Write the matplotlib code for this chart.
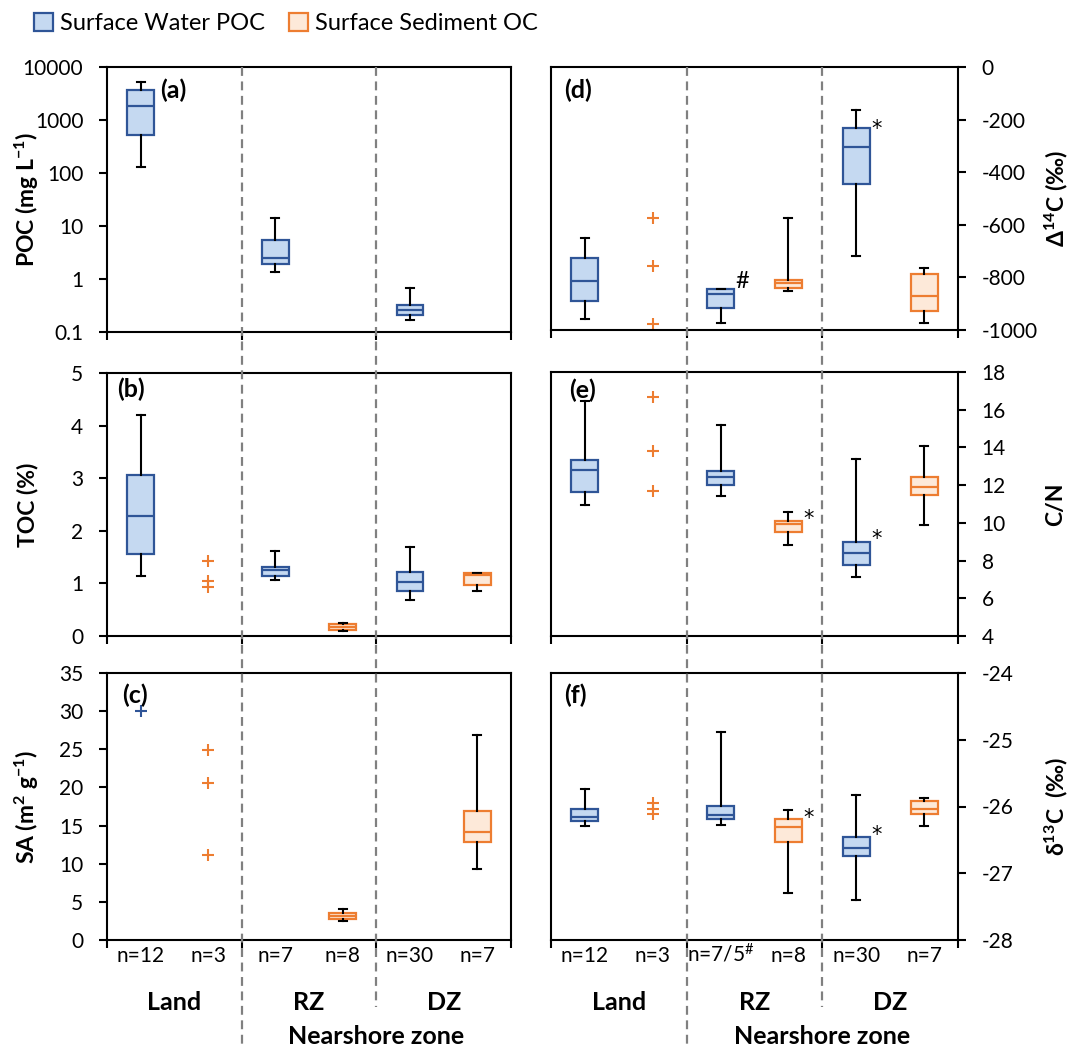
import numpy as np
import matplotlib
matplotlib.use('Agg')
from matplotlib import pyplot as plt
from matplotlib.patches import Patch
from matplotlib.lines import Line2D
from matplotlib.transforms import blended_transform_factory

plt.rcParams['font.family'] = ['Lato', 'DejaVu Sans']
plt.rcParams['mathtext.fontset'] = 'custom'
plt.rcParams['mathtext.rm'] = 'Lato'
plt.rcParams['mathtext.bf'] = 'Lato:bold'
plt.rcParams['mathtext.default'] = 'regular'
plt.rcParams['axes.unicode_minus'] = False

# each box: [whislo, q1, med, q3, whishi]; None = no box for that zone
zones = ['Land', 'RZ', 'DZ']
n_left = ['n=12', 'n=3', 'n=7', 'n=8', 'n=30', 'n=7']
n_right = ['n=12', 'n=3', 'n=7/5$^{\\#}$', 'n=8', 'n=30', 'n=7']

poc_water = [[132, 517, 1860, 3620, 5200], [1.33, 1.96, 2.44, 5.4, 14.3], [0.166, 0.213, 0.264, 0.32, 0.68]]
poc_sed = [None, None, None]

toc_water = [[1.14, 1.565, 2.29, 3.07, 4.2], [1.058, 1.147, 1.248, 1.305, 1.61], [0.69, 0.862, 1.027, 1.217, 1.686]]
toc_sed = [None, [0.089, 0.12, 0.171, 0.222, 0.253], [0.862, 0.976, 1.165, 1.19, 1.2]]
toc_sed_pts = [1.42, 1.04, 0.925]

sa_water = [None, None, None]
sa_water_pts = [30.0]
sa_sed = [None, [2.47, 2.69, 3.13, 3.57, 4.0], [9.25, 12.86, 14.18, 16.9, 26.86]]
sa_sed_pts = [24.9, 20.6, 11.2]

d14c_water = [[-958, -890, -812, -727, -650], [-975, -916, -863, -846, -846], [-720, -445, -306, -233, -165]]
d14c_sed = [None, [-852, -839, -821, -808, -576], [-972, -926, -872, -787, -763]]
d14c_sed_pts = [-576, -756, -978]

cn_water = [[10.96, 11.65, 12.8, 13.35, 16.46], [11.4, 12.0, 12.41, 12.76, 15.17], [7.12, 7.75, 8.42, 9.0, 13.4]]
cn_sed = [None, [8.85, 9.49, 9.93, 10.09, 10.6], [9.91, 11.5, 11.91, 12.41, 14.1]]
cn_sed_pts = [16.67, 13.79, 11.7]

d13c_water = [[-26.29, -26.215, -26.155, -26.04, -25.74], [-26.275, -26.185, -26.12, -25.99, -24.88], [-27.405, -26.745, -26.615, -26.455, -25.835]]
d13c_sed = [None, [-27.3, -26.525, -26.305, -26.19, -26.05], [-26.285, -26.115, -26.035, -25.915, -25.87]]
d13c_sed_pts = [-25.95, -26.03, -26.11]

# significance marks: (slot, y, symbol)
d14c_marks = [(2, -806, '#'), (4, -203, '*')]
cn_marks = [(3, 10.67, '*'), (4, 9.56, '*')]
d13c_marks = [(3, -26.05, '*'), (4, -26.3, '*')]

blue_fill, blue_edge = '#c5d9f1', '#2f5597'
orange_fill, orange_edge = '#fde9d9', '#ed7d31'

W, H = 1073, 1046
fig = plt.figure(figsize=(W / 100, H / 100), dpi=100)


def px_axes(x0, x1, y0, y1):
    return fig.add_axes([x0 / W, 1 - y1 / H, (x1 - x0) / W, (y1 - y0) / H])


def draw_boxes(ax, stats, slots, fill, edge):
    st, pos = [], []
    for s, b in zip(slots, stats):
        if b is None:
            continue
        st.append(dict(whislo=b[0], q1=b[1], med=b[2], q3=b[3], whishi=b[4], fliers=[]))
        pos.append(s + 0.5)
    if not st:
        return
    ax.bxp(st, positions=pos, widths=0.4, capwidths=0.12, patch_artist=True, showfliers=False,
           boxprops=dict(facecolor=fill, edgecolor=edge, linewidth=1.6),
           medianprops=dict(color=edge, linewidth=1.6),
           whiskerprops=dict(color='black', linewidth=1.5),
           capprops=dict(color='black', linewidth=1.5), manage_ticks=False)


L0, L1 = 107, 511
R0, R1 = 551, 958
panels = [
    dict(cell=(L0, L1, 67, 332), side='left', tag='(a)', tagxy=(160, 90), ylabel='POC (mg L$^{-1}$)',
         water=poc_water, sed=poc_sed, wpts=[], spts=[], marks=[], log=True, ylim=(0.1, 10000),
         yticks=[0.1, 1, 10, 100, 1000, 10000], yticklabels=['0.1', '1', '10', '100', '1000', '10000']),
    dict(cell=(L0, L1, 373, 636), side='left', tag='(b)', tagxy=(117, 389), ylabel='TOC (%)',
         water=toc_water, sed=toc_sed, wpts=[], spts=toc_sed_pts, marks=[], log=False, ylim=(0, 5),
         yticks=np.arange(0, 6, 1)),
    dict(cell=(L0, L1, 673, 940), side='left', tag='(c)', tagxy=(122, 695), ylabel='SA (m$^{2}$ g$^{-1}$)',
         water=sa_water, sed=sa_sed, wpts=sa_water_pts, spts=sa_sed_pts, marks=[], log=False, ylim=(0, 35),
         yticks=np.arange(0, 40, 5), nlab=n_left),
    dict(cell=(R0, R1, 67, 330), side='right', tag='(d)', tagxy=(564, 90), ylabel='Δ$^{14}$C (‰)',
         water=d14c_water, sed=d14c_sed, wpts=[], spts=d14c_sed_pts, marks=d14c_marks, log=False,
         ylim=(-1000, 0), yticks=np.arange(-1000, 1, 200)),
    dict(cell=(R0, R1, 372, 636), side='right', tag='(e)', tagxy=(569, 390), ylabel='C/N',
         water=cn_water, sed=cn_sed, wpts=[], spts=cn_sed_pts, marks=cn_marks, log=False,
         ylim=(4, 18), yticks=np.arange(4, 19, 2)),
    dict(cell=(R0, R1, 673, 940), side='right', tag='(f)', tagxy=(564, 695), ylabel='δ$^{13}$C  (‰)',
         water=d13c_water, sed=d13c_sed, wpts=[], spts=d13c_sed_pts, marks=d13c_marks, log=False,
         ylim=(-28, -24), yticks=np.arange(-28, -23, 1), nlab=n_right),
]

axes = []
for p in panels:
    x0, x1, y0, y1 = p['cell']
    ax = px_axes(x0, x1, y0, y1)
    axes.append(ax)
    if p['log']:
        ax.set_yscale('log')
    ax.set_xlim(0, 6)
    ax.set_ylim(*p['ylim'])
    draw_boxes(ax, p['water'], [0, 2, 4], blue_fill, blue_edge)
    draw_boxes(ax, p['sed'], [1, 3, 5], orange_fill, orange_edge)
    if p['wpts']:
        ax.plot([0.5] * len(p['wpts']), p['wpts'], ls='none', marker='+', ms=8.5, mew=1.5, color=blue_edge)
    if p['spts']:
        ax.plot([1.5] * len(p['spts']), p['spts'], ls='none', marker='+', ms=8.5, mew=1.5, color=orange_edge)
    for slot, yv, sym in p['marks']:
        if sym == '#':
            ax.annotate(sym, (slot + 0.82, yv), xytext=(0, -2), textcoords='offset points',
                        fontsize=17, ha='center', va='center')
        else:
            ax.annotate(sym, (slot + 0.8, yv), xytext=(0, -6), textcoords='offset points',
                        fontsize=15, family='DejaVu Sans', ha='center', va='center')

    ax.set_yticks(p['yticks'])
    if 'yticklabels' in p:
        ax.set_yticklabels(p['yticklabels'])
    ax.yaxis.set_minor_locator(matplotlib.ticker.NullLocator())
    ax.set_xticks([0, 2, 4, 6])
    ax.set_xticklabels([])
    ax.tick_params(axis='both', which='major', direction='out', length=6, width=1.5, labelsize=15, pad=11)
    for sp in ax.spines.values():
        sp.set_linewidth(1.5)
    ax.set_ylabel(p['ylabel'], fontsize=16.5, fontweight='bold')
    if p['side'] == 'right':
        ax.yaxis.tick_right()
        ax.yaxis.set_label_position('right')
        ax.yaxis.set_label_coords((1056 - x0) / (x1 - x0), 0.5)
    else:
        ax.yaxis.set_label_coords((27 - x0) / (x1 - x0), 0.5)
    ax.yaxis.label.set_va('center')
    fig.text(p['tagxy'][0] / W, 1 - p['tagxy'][1] / H, p['tag'], fontsize=18, fontweight='bold',
             ha='left', va='center')
    if 'nlab' in p:
        tr = blended_transform_factory(ax.transData, fig.transFigure)
        for i, lab in enumerate(p['nlab']):
            fig.text(i + 0.5, 1 - 962 / H, lab, transform=tr, fontsize=15, ha='center', va='baseline')

# zone dividers, from the top panels down through the labels
for ax_top in (axes[0], axes[3]):
    tr = blended_transform_factory(ax_top.transData, fig.transFigure)
    for xv, yend in ((2, 0.0), (4, 1 - 1007 / H)):
        fig.add_artist(Line2D([xv, xv], [1 - 67 / H, yend], transform=tr, color='#808080',
                              lw=1.6, linestyle=(0, (4, 2.5)), zorder=5))
    for i, z in enumerate(zones):
        fig.text(1 + 2 * i, 1 - 1010 / H, z, transform=tr, fontsize=18, fontweight='bold',
                 ha='center', va='baseline')
    fig.text(4, 1 - 1044 / H, 'Nearshore zone', transform=tr, fontsize=18, fontweight='bold',
             ha='center', va='baseline')

handles = [Patch(facecolor=blue_fill, edgecolor=blue_edge, lw=1.6, label='Surface Water POC'),
           Patch(facecolor=orange_fill, edgecolor=orange_edge, lw=1.6, label='Surface Sediment OC')]
fig.legend(handles=handles, loc='upper left', bbox_to_anchor=(0.012, 1.008), ncol=2, frameon=False,
           fontsize=17, handlelength=0.8, handleheight=0.8, handletextpad=0.3, columnspacing=1.0)

fig.savefig('out.png', dpi=100)
